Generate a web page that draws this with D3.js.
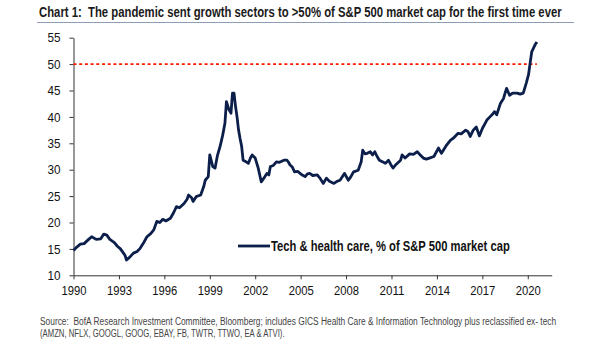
<!DOCTYPE html>
<html>
<head>
<meta charset="utf-8">
<script src="https://cdn.jsdelivr.net/npm/d3@7"></script>
<style>
  body { margin: 0; background: #fff; }
  svg { display: block; }
  .axis text { font-family: "Liberation Sans", Arial, sans-serif; font-size: 13px; fill: #111; }
  .axis path, .axis line { stroke: #333; stroke-width: 1; }
</style>
</head>
<body>
<div id="chart"></div>
<script>
// values (decimal year, % of S&P 500 market cap)
const years = [1990.0,1990.2,1990.45,1990.7,1991.0,1991.2,1991.5,1991.8,1992.0,1992.2,1992.4,1992.7,1992.9,1993.1,1993.3,1993.4,1993.5,1993.7,1993.96,1994.2,1994.4,1994.6,1994.85,1995.1,1995.3,1995.5,1995.7,1995.9,1996.1,1996.4,1996.6,1996.8,1997.0,1997.3,1997.5,1997.6,1997.8,1997.9,1998.1,1998.4,1998.6,1998.7,1998.9,1999.0,1999.2,1999.35,1999.5,1999.68,1999.85,2000.0,2000.1,2000.25,2000.4,2000.5,2000.6,2000.7,2000.8,2000.9,2001.0,2001.1,2001.2,2001.4,2001.55,2001.7,2001.8,2002.0,2002.2,2002.3,2002.4,2002.55,2002.77,2002.9,2003.0,2003.2,2003.4,2003.6,2003.9,2004.1,2004.2,2004.3,2004.45,2004.6,2004.8,2004.96,2005.1,2005.3,2005.45,2005.6,2005.8,2006.1,2006.3,2006.5,2006.7,2006.9,2007.2,2007.4,2007.6,2007.9,2008.15,2008.3,2008.5,2008.8,2009.0,2009.1,2009.25,2009.4,2009.6,2009.75,2009.9,2010.05,2010.2,2010.4,2010.6,2010.8,2010.95,2011.1,2011.3,2011.6,2011.7,2011.9,2012.2,2012.45,2012.7,2012.9,2013.1,2013.3,2013.5,2013.8,2014.1,2014.3,2014.6,2014.9,2015.1,2015.4,2015.6,2015.9,2016.05,2016.2,2016.4,2016.6,2016.8,2017.0,2017.3,2017.5,2017.7,2017.8,2017.95,2018.2,2018.4,2018.5,2018.6,2018.8,2019.0,2019.3,2019.5,2019.7,2019.9,2020.05,2020.15,2020.26,2020.47,2020.6];
const share = [14.7,15.3,15.9,16.0,16.8,17.3,16.8,16.9,17.8,17.6,16.8,16.2,15.5,15.0,14.2,13.8,12.9,13.4,14.2,14.5,15.1,16.0,17.3,17.9,18.6,20.2,20.0,20.6,20.3,20.8,21.8,23.0,22.8,23.6,24.4,25.2,24.7,24.0,24.9,25.2,26.8,28.0,28.7,32.8,30.6,30.3,32.6,34.4,36.5,38.8,42.9,41.5,40.7,44.5,44.5,42.0,40.0,37.5,35.9,34.5,31.8,31.5,31.2,32.3,32.8,32.2,30.3,29.0,27.7,28.3,29.3,29.0,30.6,30.8,31.5,31.4,31.8,31.8,31.4,30.9,30.5,29.6,29.7,29.3,29.0,28.7,29.2,29.3,28.9,29.0,28.3,27.4,28.4,27.8,27.4,27.8,28.0,29.3,28.0,28.6,29.6,29.9,31.5,33.7,33.0,33.1,33.4,32.8,33.4,32.5,31.8,31.5,31.2,31.8,31.0,30.3,31.0,31.8,32.8,32.2,33.0,32.9,33.4,32.8,32.2,32.0,32.2,32.5,34.1,33.1,34.5,35.6,36.0,36.9,36.8,37.5,37.2,36.3,37.5,38.1,36.4,37.8,39.4,40.0,40.6,41.0,40.4,42.6,43.5,44.5,45.4,44.1,44.5,44.5,44.3,44.5,46.4,48.0,50.1,52.3,53.6,54.2];
const xTicks = [1990,1993,1996,1999,2002,2005,2008,2011,2014,2017,2020];
const yTicks = [10,15,20,25,30,35,40,45,50,55];
const threshold = 50;

const title = "Chart 1:  The pandemic sent growth sectors to >50% of S&P 500 market cap for the first time ever";
const legendLabel = "Tech & health care, % of S&P 500 market cap";
const sourceLines = [
  "Source:  BofA Research Investment Committee, Bloomberg; includes GICS Health Care & Information Technology plus reclassified ex- tech",
  "(AMZN, NFLX, GOOGL, GOOG, EBAY, FB, TWTR, TTWO, EA & ATVI)."
];

const width = 605, height = 341;
const font = '"Liberation Sans", Arial, sans-serif';

const svg = d3.select("#chart").append("svg")
  .attr("width", width)
  .attr("height", height);

const x = d3.scaleLinear().domain([1990, 2021.58]).range([73.5, 551.7]);
const y = d3.scaleLinear().domain([10, 55]).range([275.3, 37.7]);

// the original uses a narrow face, so squeeze each text horizontally to its width
function narrowText(sel, px, py, target) {
  const w = sel.node().getComputedTextLength();
  sel.attr("transform", "translate(" + px + "," + py + ") scale(" + (target / w) + ",1)");
}

// title + rule
svg.append("text")
  .attr("font-family", font)
  .attr("font-weight", "bold")
  .attr("font-size", 14.5)
  .attr("fill", "#1a1a1a")
  .style("white-space", "pre")
  .text(title)
  .call(narrowText, 39, 16.5, 523);
svg.append("line")
  .attr("x1", 37).attr("x2", 574)
  .attr("y1", 22.5).attr("y2", 22.5)
  .attr("stroke", "#8d9cb8").attr("stroke-width", 1);

svg.append("g")
  .attr("class", "axis")
  .attr("transform", "translate(73.5,0)")
  .call(d3.axisLeft(y).tickValues(yTicks).tickSize(4).tickPadding(9).tickSizeOuter(0))
  .selectAll("text")
    .attr("textLength", 13)
    .attr("lengthAdjust", "spacingAndGlyphs");

svg.append("g")
  .attr("class", "axis")
  .attr("transform", "translate(0,275.3)")
  .call(d3.axisBottom(x).tickValues(xTicks).tickFormat(d3.format("d")).tickSize(4).tickPadding(6).tickSizeOuter(0))
  .selectAll("text")
    .attr("textLength", 25)
    .attr("lengthAdjust", "spacingAndGlyphs")
    .attr("x", -12.5)
    .attr("text-anchor", "start");

// 50% marker
svg.append("line")
  .attr("x1", x(1990)).attr("x2", x(2020.6))
  .attr("y1", y(threshold)).attr("y2", y(threshold))
  .attr("stroke", "#ff1a00").attr("stroke-width", 1.8)
  .attr("stroke-dasharray", "3,2.7");

const line = d3.line()
  .x((d, i) => x(years[i]))
  .y(d => y(d));

svg.append("path")
  .datum(share)
  .attr("d", line)
  .attr("fill", "none")
  .attr("stroke", "#0c1e4a")
  .attr("stroke-width", 2.8)
  .attr("stroke-linejoin", "round");

// legend
svg.append("line")
  .attr("x1", 238).attr("x2", 270)
  .attr("y1", 246).attr("y2", 246)
  .attr("stroke", "#0c1e4a").attr("stroke-width", 2.8);
svg.append("text")
  .attr("font-family", font)
  .attr("font-weight", "bold")
  .attr("font-size", 14)
  .attr("fill", "#111")
  .text(legendLabel)
  .call(narrowText, 271, 251, 239);

const srcWidths = [517, 245];
sourceLines.forEach((s, i) => {
  svg.append("text")
    .attr("class", "src")
    .attr("font-family", font)
    .attr("font-size", 11.5)
    .attr("fill", "#444")
    .style("white-space", "pre")
    .text(s)
    .call(narrowText, 40, 324.5 + i * 12.5, srcWidths[i]);
});
</script>
</body>
</html>
